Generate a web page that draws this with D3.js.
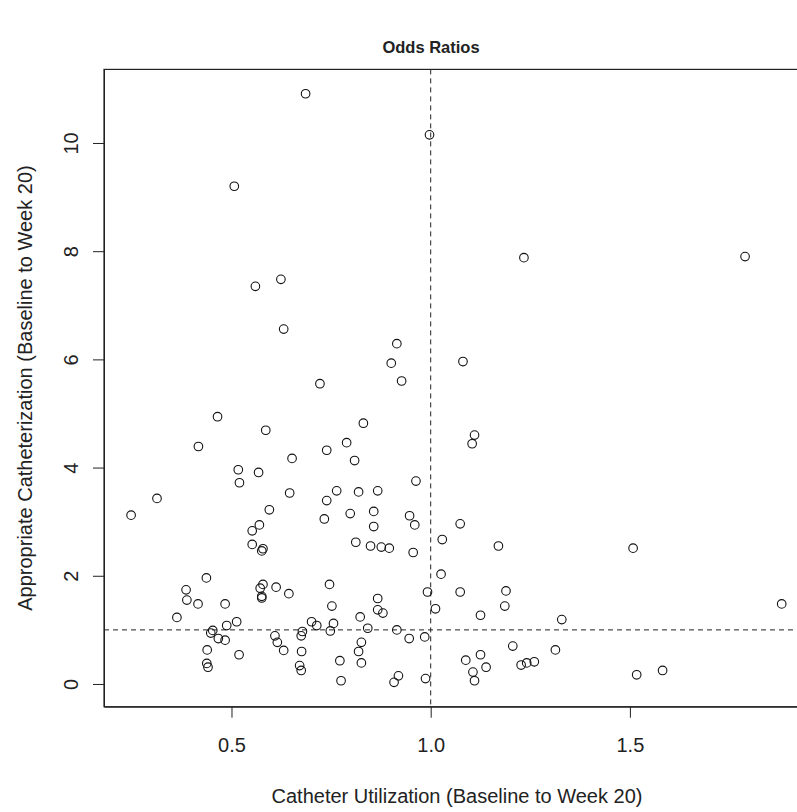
<!DOCTYPE html>
<html>
<head>
<meta charset="utf-8">
<script src="https://cdn.jsdelivr.net/npm/d3@7"></script>
<style>
  body { margin: 0; background: #fff; }
  text { font-family: "Liberation Sans", Arial, sans-serif; fill: #222; }
</style>
</head>
<body>
<svg id="chart" width="797" height="812"></svg>
<script>
// catheter utilization odds ratio (x) vs appropriate catheterization odds ratio (y)
var util_or = [0.686, 0.997, 0.507, 1.234, 1.789, 0.624, 0.560, 0.631, 0.915, 0.901,
               0.927, 0.722, 1.081, 0.465, 0.831, 0.586, 1.110, 1.104, 0.789, 0.417,
               0.739, 0.652, 0.809, 0.517, 0.568, 0.963, 0.520, 0.248, 0.313, 0.646,
               0.739, 0.764, 0.819, 0.867, 0.595, 0.733, 0.798, 0.857, 0.857, 0.947,
               0.960, 0.552, 0.570, 0.552, 0.579, 0.576, 0.812, 0.849, 0.876, 0.896,
               0.956, 1.074, 1.029, 1.170, 1.508, 1.026, 0.437, 0.386, 0.388, 0.416,
               0.484, 0.363, 0.579, 0.572, 0.576, 0.576, 0.612, 0.644, 0.746, 0.752,
               0.992, 1.012, 0.867, 0.867, 0.880, 0.823, 1.074, 1.189, 1.186, 1.125,
               1.329, 1.881, 0.513, 0.488, 0.453, 0.448, 0.467, 0.484, 0.701, 0.714,
               0.756, 0.748, 0.678, 0.675, 0.609, 0.615, 0.631, 0.842, 0.915, 0.946,
               0.985, 0.826, 0.819, 0.439, 0.519, 0.676, 0.772, 0.826, 0.438, 0.441,
               0.671, 0.675, 0.775, 0.919, 0.908, 0.987, 1.206, 1.313, 1.125, 1.088,
               1.227, 1.241, 1.260, 1.139, 1.106, 1.110, 1.582, 1.517];
var approp_or = [10.91, 10.15, 9.20, 7.88, 7.90, 7.48, 7.35, 6.56, 6.29, 5.93,
                 5.60, 5.55, 5.96, 4.94, 4.82, 4.69, 4.60, 4.44, 4.46, 4.39,
                 4.32, 4.17, 4.13, 3.96, 3.91, 3.75, 3.72, 3.12, 3.43, 3.53,
                 3.39, 3.57, 3.55, 3.57, 3.22, 3.05, 3.15, 3.19, 2.91, 3.11,
                 2.94, 2.83, 2.94, 2.58, 2.50, 2.46, 2.62, 2.55, 2.53, 2.51,
                 2.43, 2.96, 2.67, 2.55, 2.51, 2.03, 1.96, 1.74, 1.55, 1.48,
                 1.48, 1.23, 1.84, 1.77, 1.59, 1.62, 1.79, 1.67, 1.84, 1.44,
                 1.70, 1.39, 1.58, 1.37, 1.31, 1.24, 1.70, 1.72, 1.44, 1.27,
                 1.19, 1.48, 1.15, 1.08, 0.99, 0.94, 0.84, 0.81, 1.15, 1.08,
                 1.12, 0.98, 0.97, 0.89, 0.89, 0.77, 0.62, 1.03, 1.00, 0.84,
                 0.87, 0.77, 0.60, 0.63, 0.54, 0.60, 0.43, 0.39, 0.38, 0.31,
                 0.34, 0.25, 0.06, 0.15, 0.03, 0.10, 0.70, 0.63, 0.54, 0.44,
                 0.35, 0.39, 0.41, 0.31, 0.22, 0.06, 0.25, 0.17];
var x_ticks = [0.5, 1.0, 1.5];
var y_ticks = [0, 2, 4, 6, 8, 10];
var ref_x = 1, ref_y = 1;

var svg = d3.select('#chart');
// note: "top" is taken by window.top, so plot edges get a prefix
var plot_l = 104, plot_r = 857, plot_t = 69.4, plot_b = 706.7;

var x = d3.scaleLinear().domain([0.18, 2.07]).range([plot_l, plot_r]);
var y = d3.scaleLinear().domain([-0.42, 11.36]).range([plot_b, plot_t]);

var points = util_or.map(function(v, i) { return {x: v, y: approp_or[i]}; });

// reference lines
svg.append('line')
    .attr('x1', x(ref_x)).attr('x2', x(ref_x))
    .attr('y1', plot_t).attr('y2', plot_b)
    .attr('stroke', '#222').attr('stroke-dasharray', '5,4');
svg.append('line')
    .attr('x1', plot_l).attr('x2', plot_r)
    .attr('y1', y(ref_y)).attr('y2', y(ref_y))
    .attr('stroke', '#222').attr('stroke-dasharray', '5,4');

svg.append('g')
    .selectAll('circle')
    .data(points)
    .enter()
    .append('circle')
    .attr('cx', function(d) { return x(d.x); })
    .attr('cy', function(d) { return y(d.y); })
    .attr('r', 4.3)
    .attr('fill', 'none')
    .attr('stroke', '#111')
    .attr('stroke-width', 1.1);

// axes
var xAxis = svg.append('g')
    .attr('transform', 'translate(0,' + plot_b + ')')
    .call(d3.axisBottom(x).tickValues(x_ticks).tickFormat(d3.format('.1f')).tickSize(11).tickSizeOuter(0).tickPadding(20));
xAxis.selectAll('text').style('font-size', '20px').attr('fill', '#222');

var yAxis = svg.append('g')
    .attr('transform', 'translate(' + plot_l + ',0)')
    .call(d3.axisLeft(y).tickValues(y_ticks).tickSize(11).tickSizeOuter(0));
// R style: tick labels turned parallel to the axis
yAxis.selectAll('.tick text')
    .style('font-size', '20px')
    .attr('fill', '#222')
    .attr('text-anchor', 'middle')
    .attr('x', 0).attr('y', 0).attr('dy', '0.35em')
    .attr('transform', 'translate(-33,0) rotate(-90)');
svg.selectAll('.domain').attr('stroke', '#222');
svg.selectAll('.tick line').attr('stroke', '#222');

// box
svg.append('rect')
    .attr('x', plot_l).attr('y', plot_t)
    .attr('width', plot_r - plot_l).attr('height', plot_b - plot_t)
    .attr('fill', 'none').attr('stroke', '#222').attr('stroke-width', 1.2);

// titles
svg.append('text')
    .attr('x', 431).attr('y', 53)
    .attr('text-anchor', 'middle')
    .style('font-size', '16.5px').style('font-weight', 'bold')
    .attr('fill', '#000')
    .text('Odds Ratios');
svg.append('text')
    .attr('x', 457).attr('y', 803)
    .attr('text-anchor', 'middle')
    .style('font-size', '20px')
    .text('Catheter Utilization (Baseline to Week 20)');
svg.append('text')
    .attr('transform', 'translate(32,' + ((plot_t + plot_b) / 2) + ') rotate(-90)')
    .attr('text-anchor', 'middle')
    .style('font-size', '20px')
    .text('Appropriate Catheterization (Baseline to Week 20)');
</script>
</body>
</html>
